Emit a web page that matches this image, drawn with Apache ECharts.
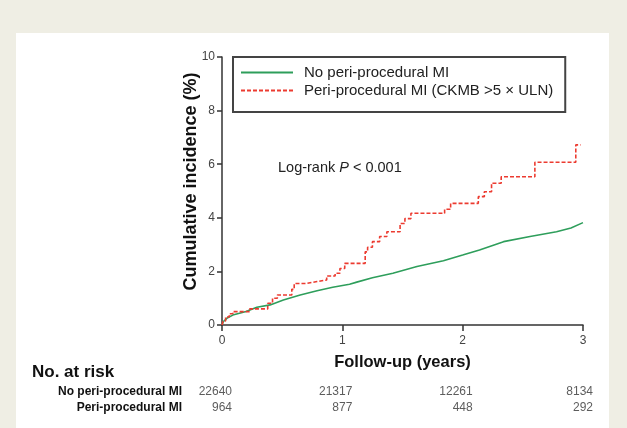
<!DOCTYPE html>
<html><head><meta charset="utf-8">
<script src="https://cdn.jsdelivr.net/npm/echarts@6/dist/echarts.min.js"></script>
<style>html,body{margin:0;padding:0;background:#efeee4;}#c{width:627px;height:428px;}</style>
</head><body><div id="c"></div>
<script>
const seriesNames = ['No peri-procedural MI', 'Peri-procedural MI (CKMB >5 \u00d7 ULN)'];
const xTicks = [0, 1, 2, 3];
const noPeriMI = [[0,0],[0.01,0.12],[0.04,0.25],[0.09,0.37],[0.2,0.5],[0.29,0.66],[0.4,0.75],[0.51,0.93],[0.65,1.12],[0.79,1.28],[0.92,1.41],[1.06,1.52],[1.12,1.6],[1.25,1.76],[1.42,1.93],[1.62,2.18],[1.84,2.40],[2.0,2.61],[2.14,2.80],[2.34,3.11],[2.56,3.30],[2.78,3.48],[2.9,3.62],[3.0,3.82]];
const periMI = [[0,0],[0.01,0.15],[0.03,0.3],[0.06,0.42],[0.09,0.5],[0.23,0.6],[0.38,0.81],[0.42,1.0],[0.46,1.12],[0.58,1.33],[0.6,1.55],[0.7,1.62],[0.79,1.68],[0.87,1.83],[0.94,1.93],[0.98,2.11],[1.02,2.3],[1.19,2.73],[1.21,2.9],[1.25,3.11],[1.31,3.3],[1.37,3.48],[1.48,3.79],[1.52,3.97],[1.57,4.17],[1.85,4.32],[1.90,4.54],[2.13,4.79],[2.18,4.97],[2.24,5.29],[2.32,5.53],[2.60,6.07],[2.94,6.72],[2.98,6.72]];
const riskRows = ['Peri-procedural MI', 'No peri-procedural MI'];
const riskNoPeri = [22640, 21317, 12261, 8134];
const riskPeri = [964, 877, 448, 292];

const FONT = 'Liberation Sans, Arial, sans-serif';
const chart = echarts.init(document.getElementById('c'));
const riskData = [];
xTicks.forEach((x, i) => {
  riskData.push([x, riskRows[1], riskNoPeri[i]]);
  riskData.push([x, riskRows[0], riskPeri[i]]);
});
chart.setOption({
  backgroundColor: '#efeee4',
  animation: false,
  textStyle: {fontFamily: FONT},
  graphic: [
    {type: 'rect', left: 16, top: 33, z: -10, shape: {width: 593, height: 400}, style: {fill: '#ffffff'}},
    {type: 'text', left: 278, top: 160, style: {
      text: '{a|Log-rank }{b|P}{a| < 0.001}',
      rich: {a: {fontSize: 14.5, fill: '#222', fontFamily: FONT}, b: {fontSize: 14.5, fill: '#222', fontStyle: 'italic', fontFamily: FONT}}
    }},
    {type: 'text', left: 32, top: 364, style: {text: 'No. at risk', fontSize: 17, fontWeight: 'bold', fill: '#111', fontFamily: FONT}}
  ],
  legend: {
    left: 233, top: 57, orient: 'vertical',
    borderColor: '#444', borderWidth: 2, backgroundColor: '#fff',
    padding: [8, 12, 14, 7], itemGap: 3, itemWidth: 52, itemHeight: 15,
    itemStyle: {opacity: 0},
    textStyle: {fontSize: 15, color: '#222', fontFamily: FONT, padding: [0, 0, 0, 6]},
    data: seriesNames
  },
  grid: [
    {left: 222, top: 57, right: 44, bottom: 103},
    {left: 222, top: 384, right: 44, height: 32}
  ],
  xAxis: [
    {type: 'value', gridIndex: 0, min: 0, max: 3, interval: 1,
     name: 'Follow-up (years)', nameLocation: 'middle', nameGap: 29, nameMoveOverlap: false,
     nameTextStyle: {fontSize: 16.5, fontWeight: 'bold', color: '#111'},
     axisLine: {lineStyle: {color: '#333', width: 1.5}},
     axisTick: {lineStyle: {color: '#333', width: 1.5}, length: 6},
     axisLabel: {fontSize: 12, color: '#444', margin: 10},
     splitLine: {show: false}},
    {type: 'value', gridIndex: 1, min: 0, max: 3, show: false}
  ],
  yAxis: [
    {type: 'value', gridIndex: 0, min: 0, max: 10, interval: 2,
     name: 'Cumulative incidence (%)', nameLocation: 'middle', nameGap: 22, nameMoveOverlap: false,
     nameTextStyle: {fontSize: 18, fontWeight: 'bold', color: '#111', padding: [0, 0, 0, 19]},
     axisLine: {show: true, lineStyle: {color: '#333', width: 1.5}},
     axisTick: {show: true, lineStyle: {color: '#333', width: 1.5}, length: 5},
     axisLabel: {fontSize: 12, color: '#444', margin: 7},
     splitLine: {show: false}},
    {type: 'category', gridIndex: 1, data: riskRows,
     axisLine: {show: false}, axisTick: {show: false},
     axisLabel: {fontSize: 12, fontWeight: 'bold', color: '#111', margin: 40}}
  ],
  series: [
    {name: seriesNames[0], type: 'line', xAxisIndex: 0, yAxisIndex: 0, data: noPeriMI,
     symbol: 'none', smooth: false, color: '#2e9e5b',
     lineStyle: {color: '#2e9e5b', width: 1.6}},
    {name: seriesNames[1], type: 'line', xAxisIndex: 0, yAxisIndex: 0, data: periMI,
     symbol: 'none', step: 'end', color: '#ec3b30',
     lineStyle: {color: '#ec3b30', width: 1.6, type: [4, 2]}},
    {type: 'scatter', xAxisIndex: 1, yAxisIndex: 1, data: riskData, symbolSize: 0,
     silent: true,
     label: {show: true, position: 'inside', align: 'right', offset: [10, 0],
       fontSize: 12, color: '#333', fontFamily: FONT,
       formatter: p => String(p.value[2])}}
  ]
});
</script></body></html>
